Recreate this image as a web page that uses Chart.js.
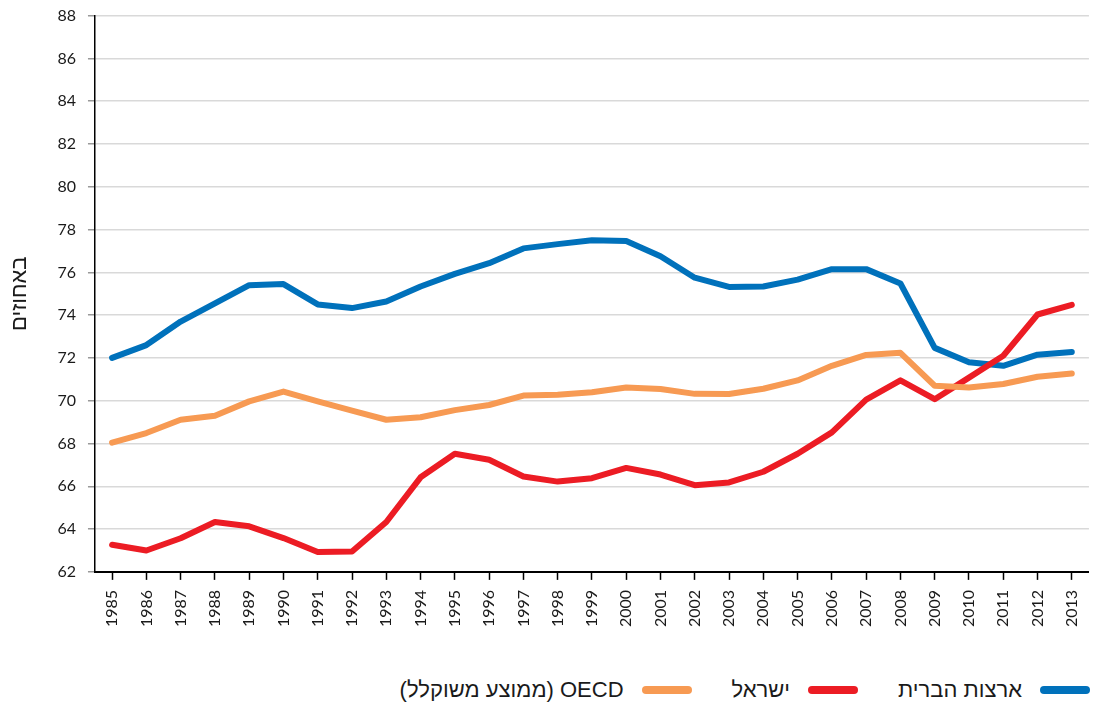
<!DOCTYPE html>
<html>
<head>
<meta charset="utf-8">
<script src="https://cdn.jsdelivr.net/npm/chart.js@4"></script>
<style>
  html, body { margin: 0; padding: 0; background: #fff; overflow: hidden; }
  #wrap { position: relative; width: 1093px; height: 708px; overflow: hidden; }
  #chart { position: absolute; left: 0; top: -6px; }
  #legend {
    position: absolute; left: 0; right: 3px; top: 676px; height: 28px;
    display: flex; flex-direction: row; direction: rtl; align-items: center;
    font-family: 'Liberation Sans', 'DejaVu Sans', sans-serif; font-size: 22px; color: #1a1a1a;
  }
  .item { display: flex; align-items: center; margin-left: 40px; white-space: nowrap; }
  .swatch { width: 50px; height: 8px; border-radius: 4px; margin-left: 18px; }
</style>
</head>
<body>
<div id="wrap">
  <canvas id="chart" width="1101" height="649"></canvas>
  <div id="legend"></div>
</div>
<script>
const years = ['1985','1986','1987','1988','1989','1990','1991','1992','1993','1994','1995','1996','1997','1998','1999',
  '2000','2001','2002','2003','2004','2005','2006','2007','2008','2009','2010','2011','2012','2013'];

const usa = [72.0, 72.6, 73.7, 74.55, 75.4, 75.45, 74.5, 74.33, 74.64, 75.34, 75.93, 76.43, 77.12, 77.32, 77.5,
  77.47, 76.75, 75.75, 75.32, 75.34, 75.66, 76.15, 76.15, 75.48, 72.47, 71.8, 71.63, 72.15, 72.28];

const israel = [63.27, 63.0, 63.57, 64.33, 64.13, 63.58, 62.93, 62.95, 64.33, 66.42, 67.52, 67.24, 66.46, 66.22, 66.38,
  66.86, 66.55, 66.05, 66.18, 66.68, 67.52, 68.52, 70.05, 70.95, 70.07, 71.08, 72.1, 74.03, 74.48];

const oecd = [68.04, 68.49, 69.11, 69.3, 69.97, 70.43, 69.97, 69.54, 69.11, 69.23, 69.56, 69.8, 70.24, 70.28, 70.4,
  70.62, 70.55, 70.32, 70.31, 70.56, 70.95, 71.63, 72.14, 72.24, 70.7, 70.62, 70.78, 71.12, 71.27];

const seriesNames = ['ארצות הברית', 'ישראל', 'OECD (ממוצע משוקלל)'];
const yTitle = 'באחוזים';

const blue = '#0071bb';
const red = '#ec1c24';
const orange = '#f79a53';

Chart.defaults.font.family = "Lato, 'Liberation Sans', 'DejaVu Sans', sans-serif";
Chart.defaults.color = '#1a1a1a';

function lineSet(label, data, color) {
  return {
    label: label,
    data: data,
    borderColor: color,
    backgroundColor: color,
    borderWidth: 6,
    pointRadius: 0,
    tension: 0,
    borderCapStyle: 'round',
    borderJoinStyle: 'round',
  };
}

// html legend, right to left, built from the chart's own legend items
const htmlLegend = {
  id: 'htmlLegend',
  afterUpdate(chart) {
    const box = document.getElementById('legend');
    box.innerHTML = '';
    const items = chart.options.plugins.legend.labels.generateLabels(chart).reverse();
    items.forEach((item) => {
      const el = document.createElement('div');
      el.className = 'item';
      const sw = document.createElement('span');
      sw.className = 'swatch';
      sw.style.background = item.strokeStyle;
      const txt = document.createElement('span');
      txt.textContent = item.text;
      el.appendChild(sw);
      el.appendChild(txt);
      box.appendChild(el);
    });
  },
};

const ctx = document.getElementById('chart');
new Chart(ctx, {
  type: 'line',
  data: {
    labels: years,
    datasets: [
      lineSet(seriesNames[2], oecd, orange),
      lineSet(seriesNames[1], israel, red),
      lineSet(seriesNames[0], usa, blue),
    ],
  },
  options: {
    responsive: false,
    animation: false,
    layout: { padding: { top: -8, right: 0, left: 6, bottom: 6 } },
    plugins: {
      tooltip: { enabled: false },
      legend: { display: false },
    },
    scales: {
      x: {
        offset: true,
        grid: {
          offset: false,
          drawOnChartArea: false,
          tickColor: '#000',
          tickLength: 8,
          tickWidth: 1.5,
        },
        border: { color: '#000', width: 2 },
        ticks: {
          autoSkip: false,
          maxRotation: 90,
          minRotation: 90,
          padding: 10,
          color: '#1a1a1a',
          font: { size: 16 },
        },
      },
      y: {
        min: 62,
        max: 88,
        title: {
          display: true,
          text: yTitle,
          color: '#1a1a1a',
          font: { size: 22 },
          padding: { top: 0, bottom: 13 },
        },
        grid: {
          color: '#d9d9d9',
          lineWidth: 1.5,
          tickColor: '#999',
          tickLength: 7,
        },
        border: { color: '#000', width: 1.5 },
        ticks: {
          stepSize: 2,
          padding: 12,
          color: '#1a1a1a',
          font: { size: 16 },
        },
      },
    },
  },
  plugins: [htmlLegend],
});
</script>
</body>
</html>
